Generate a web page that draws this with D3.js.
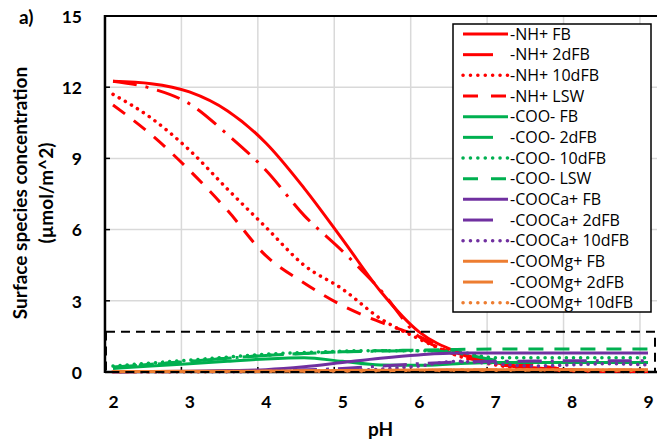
<!DOCTYPE html>
<html>
<head>
<meta charset="utf-8">
<script src="https://cdn.jsdelivr.net/npm/d3@7"></script>
<style>
  body { margin: 0; background: #fff; }
  text { font-family: Lato, "Open Sans", sans-serif; }
</style>
</head>
<body>
<svg id="chart" width="657" height="448"></svg>
<script>
// pH values shared by every series
var pH = [2, 2.5, 3, 3.5, 4, 4.5, 5, 5.5, 6, 6.5, 7, 7.5, 8, 8.5, 9];

var nhFB    = [12.25, 12.15, 11.8, 11.0, 9.65, 7.75, 5.6, 3.4, 1.7, 0.85, 0.4, 0.18, 0.08, 0.04, 0.02];
var nh2dFB  = [12.25, 11.95, 11.3, 10.0, 8.5, 6.6, 5.1, 3.45, 1.5, 0.8, 0.35, 0.15, 0.06, 0.03, 0.02];
var nh10dFB = [11.7, 10.7, 9.35, 7.7, 6.1, 4.5, 3.5, 2.25, 1.4, 0.7, 0.3, 0.12, 0.05, 0.03, 0.02];
var nhLSW   = [11.25, 10.0, 8.5, 6.8, 4.9, 3.75, 2.8, 2.1, 1.5, 0.7, 0.4, 0.3, 0.08, 0.04, 0.02];

var cooFB    = [0.15, 0.25, 0.35, 0.45, 0.55, 0.6, 0.45, 0.3, 0.28, 0.35, 0.4, 0.4, 0.4, 0.4, 0.4];
var coo2dFB  = [0.2, 0.32, 0.45, 0.58, 0.7, 0.78, 0.85, 0.88, 0.9, 0.8, 0.5, 0.4, 0.4, 0.4, 0.4];
var coo10dFB = [0.25, 0.38, 0.5, 0.63, 0.75, 0.82, 0.88, 0.9, 0.9, 0.85, 0.6, 0.6, 0.6, 0.6, 0.6];
var cooLSW   = [0.2, 0.33, 0.45, 0.58, 0.7, 0.78, 0.85, 0.9, 0.92, 0.95, 0.97, 0.97, 0.97, 0.97, 0.97];

var caFB    = [0.01, 0.02, 0.03, 0.06, 0.1, 0.22, 0.4, 0.58, 0.72, 0.8, 0.8, 0.8, 0.8, 0.8, 0.8];
var ca2dFB  = [0, 0.01, 0.02, 0.03, 0.05, 0.09, 0.15, 0.25, 0.35, 0.42, 0.45, 0.46, 0.47, 0.47, 0.47];
var ca10dFB = [0, 0, 0.01, 0.01, 0.02, 0.04, 0.06, 0.12, 0.25, 0.45, 0.35, 0.25, 0.3, 0.35, 0.3];

var mgFB    = [0.02, 0.02, 0.03, 0.03, 0.04, 0.05, 0.06, 0.07, 0.08, 0.09, 0.1, 0.1, 0.1, 0.1, 0.1];
var mg2dFB  = [0.01, 0.01, 0.02, 0.02, 0.03, 0.04, 0.05, 0.06, 0.07, 0.08, 0.08, 0.08, 0.08, 0.08, 0.08];
var mg10dFB = [0.01, 0.01, 0.01, 0.02, 0.02, 0.03, 0.04, 0.05, 0.06, 0.07, 0.07, 0.07, 0.07, 0.07, 0.07];

var seriesNames = ["-NH+ FB", "-NH+ 2dFB", "-NH+ 10dFB", "-NH+ LSW",
                   "-COO- FB", "-COO- 2dFB", "-COO- 10dFB", "-COO- LSW",
                   "-COOCa+ FB", "-COOCa+ 2dFB", "-COOCa+ 10dFB",
                   "-COOMg+ FB", "-COOMg+ 2dFB", "-COOMg+ 10dFB"];
var seriesValues = [nhFB, nh2dFB, nh10dFB, nhLSW,
                    cooFB, coo2dFB, coo10dFB, cooLSW,
                    caFB, ca2dFB, ca10dFB,
                    mgFB, mg2dFB, mg10dFB];

var xTicks = [2, 3, 4, 5, 6, 7, 8, 9];
var yTicks = [0, 3, 6, 9, 12, 15];
var boxTop = 1.7;   // dashed highlight box upper limit

var colors = { NH: "#ff0000", COO: "#00b050", COOCa: "#7030a0", COOMg: "#ed7d31" };
// plot dash / legend dash per sample type
var styles = {
  FB:    { dash: null, legend: null, cap: "butt" },
  "2dFB":  { dash: "24,9,3,9", legend: "30,40", cap: "butt" },
  "10dFB": { dash: "0.1,7", legend: "0.1,7.3", cap: "round" },
  LSW:   { dash: "15,11", legend: "15,13", cap: "butt" }
};

var svg = d3.select("#chart");

var x = d3.scaleLinear().domain([2, 9]).range([113, 648]);
var y = d3.scaleLinear().domain([0, 15]).range([372, 16]);
var gridShift = 0.105;                 // gridlines sit a bit left of the labels
var xLeft = x(2 - gridShift), xRight = 662;

// gridlines
svg.append("g").selectAll("line.vg")
  .data(xTicks.slice(1))
  .enter().append("line")
  .attr("x1", function(d) { return x(d - gridShift); })
  .attr("x2", function(d) { return x(d - gridShift); })
  .attr("y1", y(15)).attr("y2", y(0))
  .attr("stroke", "#d9d9d9").attr("stroke-width", 1.5);

svg.append("g").selectAll("line.hg")
  .data(yTicks.slice(1, -1))
  .enter().append("line")
  .attr("x1", xLeft).attr("x2", xRight)
  .attr("y1", function(d) { return y(d); })
  .attr("y2", function(d) { return y(d); })
  .attr("stroke", "#d9d9d9").attr("stroke-width", 1.5);

// frame: top, left, bottom
svg.append("line").attr("x1", xLeft).attr("x2", xRight)
  .attr("y1", y(15)).attr("y2", y(15)).attr("stroke", "#000").attr("stroke-width", 2);
svg.append("line").attr("x1", xLeft).attr("x2", xLeft)
  .attr("y1", y(15) - 1).attr("y2", y(0) + 1).attr("stroke", "#000").attr("stroke-width", 2.5);
svg.append("line").attr("x1", xLeft).attr("x2", xRight)
  .attr("y1", y(0)).attr("y2", y(0)).attr("stroke", "#000").attr("stroke-width", 2.5);

// small inside ticks
svg.append("g").selectAll("line")
  .data(yTicks.slice(1, -1))
  .enter().append("line")
  .attr("x1", xLeft).attr("x2", xLeft + 5)
  .attr("y1", function(d) { return y(d); }).attr("y2", function(d) { return y(d); })
  .attr("stroke", "#000").attr("stroke-width", 1.5);
svg.append("g").selectAll("line")
  .data(xTicks.slice(1))
  .enter().append("line")
  .attr("x1", function(d) { return x(d - gridShift); })
  .attr("x2", function(d) { return x(d - gridShift); })
  .attr("y1", y(0)).attr("y2", y(0) - 5)
  .attr("stroke", "#000").attr("stroke-width", 1.5);

// tick labels
svg.append("g").attr("transform", "translate(0," + 408 + ")")
  .call(d3.axisBottom(x).tickValues(xTicks).tickSize(0).tickFormat(d3.format("d")))
  .call(function(g) {
    g.select(".domain").remove();
    g.selectAll("text").attr("y", 0).attr("dy", 0)
      .style("font-family", "Lato, sans-serif")
      .style("font-size", "17.5px").style("font-weight", "bold").attr("fill", "#000");
  });

svg.append("g").attr("transform", "translate(82,0)")
  .call(d3.axisLeft(y).tickValues(yTicks).tickSize(0).tickPadding(0).tickFormat(d3.format("d")))
  .call(function(g) {
    g.select(".domain").remove();
    g.selectAll("text").attr("dy", "0.36em")
      .style("font-family", "Lato, sans-serif")
      .style("font-size", "17.5px").style("font-weight", "bold").attr("fill", "#000");
  });

// axis titles
svg.append("text").attr("x", (xLeft + 656) / 2).attr("y", 436)
  .attr("text-anchor", "middle").style("font-size", "19px").style("font-weight", "bold")
  .text("pH");

var yTitle = svg.append("text").attr("transform", "translate(0,193) rotate(-90)")
  .attr("text-anchor", "middle").style("font-size", "19px").style("font-weight", "bold");
yTitle.append("tspan").attr("x", 0).attr("y", 27).text("Surface species concentration");
yTitle.append("tspan").attr("x", 0).attr("y", 53).text("(µmol/m^2)");

svg.append("text").attr("x", 19).attr("y", 24)
  .style("font-size", "19px").style("font-weight", "bold").text("a)");

// series
function styleOf(name) {
  var parts = name.split(" ");
  var group = parts[0].replace(/^-/, "").replace(/[+-]$/, "");
  return { color: colors[group], st: styles[parts[1]] };
}

var line = d3.line()
  .x(function(d, i) { return x(pH[i]); })
  .y(function(d) { return y(d); })
  .curve(d3.curveMonotoneX);

var plot = svg.append("g");
seriesValues.forEach(function(vals, i) {
  var s = styleOf(seriesNames[i]);
  plot.append("path")
    .attr("d", line(vals))
    .attr("fill", "none")
    .attr("stroke", s.color)
    .attr("stroke-width", s.st.cap === "round" ? 3.5 : 3)
    .attr("stroke-linecap", s.st.cap)
    .attr("stroke-dasharray", s.st.dash);
});

// dashed highlight box
svg.append("rect")
  .attr("x", xLeft + 1).attr("y", y(boxTop))
  .attr("width", 655 - xLeft - 1).attr("height", y(0) - y(boxTop))
  .attr("fill", "none").attr("stroke", "#000").attr("stroke-width", 2)
  .attr("stroke-dasharray", "9,6");

// legend
var legend = svg.append("g").attr("transform", "translate(453,24)");
legend.append("rect").attr("width", 198).attr("height", 288)
  .attr("fill", "#fff").attr("stroke", "#000").attr("stroke-width", 1.5);

var rows = legend.selectAll("g.row").data(seriesNames).enter().append("g")
  .attr("transform", function(d, i) { return "translate(0," + (10 + i * 20.67) + ")"; });

rows.append("line")
  .attr("x1", 10).attr("x2", 55).attr("y1", 0).attr("y2", 0)
  .attr("stroke", function(d) { return styleOf(d).color; })
  .attr("stroke-width", function(d) { return styleOf(d).st.cap === "round" ? 3.5 : 3; })
  .attr("stroke-linecap", function(d) { return styleOf(d).st.cap; })
  .attr("stroke-dasharray", function(d) { return styleOf(d).st.legend; });

rows.append("text")
  .attr("x", 57).attr("y", 5.5)
  .style("font-family", "'Open Sans', sans-serif")
  .style("font-size", "16px").attr("fill", "#000")
  .text(function(d) { return d; });
</script>
</body>
</html>
